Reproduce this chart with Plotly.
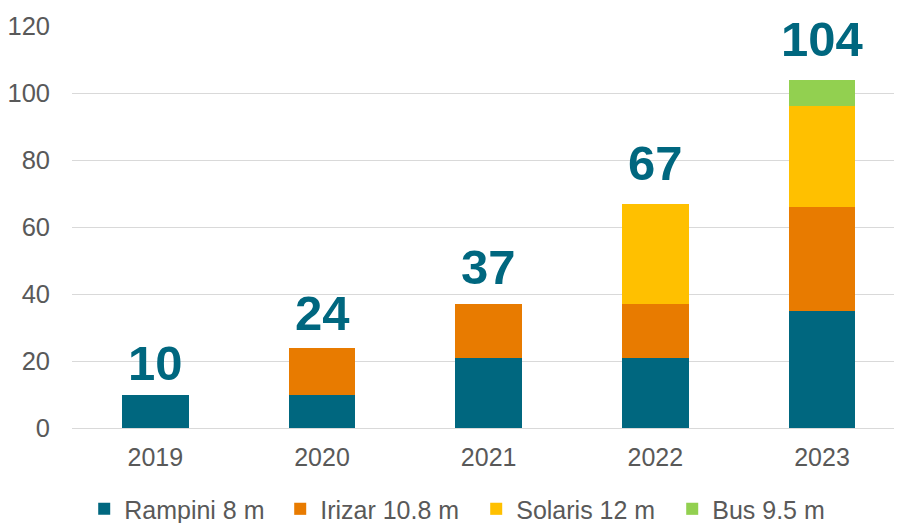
import plotly.graph_objects as go

years = ["2019", "2020", "2021", "2022", "2023"]
rampini = [10, 10, 21, 21, 35]
irizar = [0, 14, 16, 16, 31]
solaris = [0, 0, 0, 30, 30]
bus = [0, 0, 0, 0, 8]
totals = [10, 24, 37, 67, 104]
series_names = ["Rampini 8 m", "Irizar 10.8 m", "Solaris 12 m", "Bus 9.5 m"]
colors = ["#00677F", "#E87B00", "#FFC000", "#92D050"]
label_lift = [32, 35, 37, 41, 41]  # pixel offset of each total label above its bar

fig = go.Figure()
for name, vals, c in zip(series_names, [rampini, irizar, solaris, bus], colors):
    fig.add_trace(go.Bar(x=years, y=vals, name=name, marker=dict(color=c, line=dict(width=0))))

for i, (t, lift) in enumerate(zip(totals, label_lift)):
    fig.add_annotation(x=i, y=t, xref="x", yref="y", text=f"<b>{t}</b>", showarrow=False,
                       yanchor="middle", yshift=lift, borderpad=0,
                       font=dict(size=49, color="#00677F", family="Liberation Sans, Arial"))

fig.update_layout(
    barmode="stack",
    bargap=0.6,
    width=894, height=515,
    margin=dict(l=64, r=0, t=18, b=95),
    paper_bgcolor="white", plot_bgcolor="white",
    font=dict(family="Liberation Sans, Arial", size=25, color="#595959"),
    showlegend=True,
    legend=dict(orientation="h", x=0.487, xanchor="center", yref="container", y=0.027, yanchor="middle",
                font=dict(size=25, color="#595959"), traceorder="normal",
                entrywidth=151, entrywidthmode="pixels"),
    xaxis=dict(type="category", range=[-0.5, 4.48], showgrid=False, showline=False, ticks="",
               ticklabelstandoff=12, automargin=False, tickfont=dict(size=25)),
    yaxis=dict(range=[0, 120], dtick=20, showgrid=True, gridcolor="#D9D9D9", gridwidth=1.3,
               zeroline=True, zerolinecolor="#D9D9D9", zerolinewidth=1.3, ticks="",
               ticklabelstandoff=21, automargin=False, tickfont=dict(size=25.5)),
)
fig.write_html("out.html")
